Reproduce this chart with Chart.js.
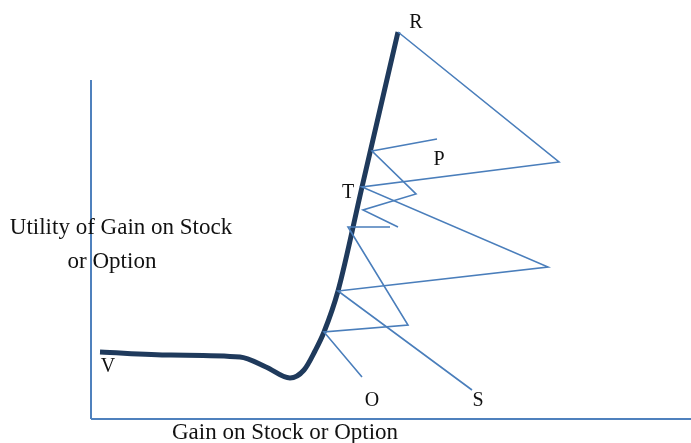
<!DOCTYPE html>
<html>
<head>
<meta charset="utf-8">
<script src="https://cdn.jsdelivr.net/npm/chart.js@4"></script>
<style>
    body { margin: 0; background: #fff; }
    #wrap { position: relative; width: 691px; height: 443px; }
</style>
</head>
<body>
<div id="wrap"><canvas id="utilityChart"></canvas></div>
<script>
// utility curve (gain, utility), schematic units
const curveGain = [0.9, 8, 14.9, 17.5, 19.9, 21.3, 22.4, 23.3, 24.7, 27.1, 30.7];
const curveUtility = [6.7, 6.4, 6.2, 5.2, 4.1, 4.9, 6.8, 8.7, 12.8, 23.2, 38.7];

// thin zigzag paths
const pathAGain = [34.6, 28.1, 32.5, 27.2, 30.7];
const pathAUtility = [28.0, 26.8, 22.5, 20.9, 19.2];
const pathBGain = [29.9, 25.7, 31.7, 23.3, 27.1];
const pathBUtility = [19.2, 19.2, 9.4, 8.7, 4.2];
const pathCGain = [30.7, 46.8, 27.1, 45.7, 24.7, 38.1];
const pathCUtility = [38.7, 25.7, 23.2, 15.2, 12.8, 2.9];

// axes
const axisYGain = [0, 0];
const axisYUtility = [33.9, 0];
const axisXGain = [0, 60];
const axisXUtility = [0, 0];

// point letters
const pointNames = ["R", "P", "T", "V", "O", "S"];
const pointGain = [32.5, 34.8, 25.7, 1.7, 28.1, 38.7];
const pointUtility = [39.1, 25.4, 22.1, 4.7, 1.3, 1.3];

const yTitle = ["Utility of Gain on Stock", "or Option"];
const xTitle = "Gain on Stock or Option";

const toPoints = (xs, ys) => xs.map((x, i) => ({ x: x, y: ys[i] }));

const thin = "#4a7ebb";
const thick = "#1f3a5c";

function lineSet(xs, ys, color, width) {
    return {
        data: toPoints(xs, ys),
        showLine: true,
        borderColor: color,
        borderWidth: width,
        pointRadius: 0,
        fill: false
    };
}

const textPlugin = {
    id: "texts",
    afterDatasetsDraw(chart) {
        const ctx = chart.ctx;
        const xs = chart.scales.x;
        const ys = chart.scales.y;
        ctx.save();
        ctx.fillStyle = "#111";
        ctx.textAlign = "center";
        ctx.textBaseline = "alphabetic";
        ctx.font = "20px 'Liberation Serif'";
        pointNames.forEach((name, i) => {
            ctx.fillText(name, xs.getPixelForValue(pointGain[i]), ys.getPixelForValue(pointUtility[i]));
        });
        ctx.font = "23px 'Liberation Serif'";
        ctx.fillText(yTitle[0], 121, 234);
        ctx.fillText(yTitle[1], 112, 268);
        ctx.fillText(xTitle, 285, 439);
        ctx.restore();
    }
};

new Chart(document.getElementById("utilityChart"), {
    type: "scatter",
    data: {
        datasets: [
            lineSet(axisYGain, axisYUtility, "#4f81bd", 2),
            lineSet(axisXGain, axisXUtility, "#4f81bd", 2),
            lineSet(pathAGain, pathAUtility, thin, 1.6),
            lineSet(pathBGain, pathBUtility, thin, 1.6),
            lineSet(pathCGain, pathCUtility, thin, 1.6),
            Object.assign(lineSet(curveGain, curveUtility, thick, 5), { cubicInterpolationMode: "monotone" })
        ]
    },
    options: {
        responsive: true,
        maintainAspectRatio: false,
        animation: false,
        layout: { padding: 0 },
        plugins: { legend: { display: false }, tooltip: { enabled: false } },
        scales: {
            x: { type: "linear", display: false, min: -9.1, max: 60 },
            y: { type: "linear", display: false, min: -2.4, max: 41.9 }
        }
    },
    plugins: [textPlugin]
});
</script>
</body>
</html>
